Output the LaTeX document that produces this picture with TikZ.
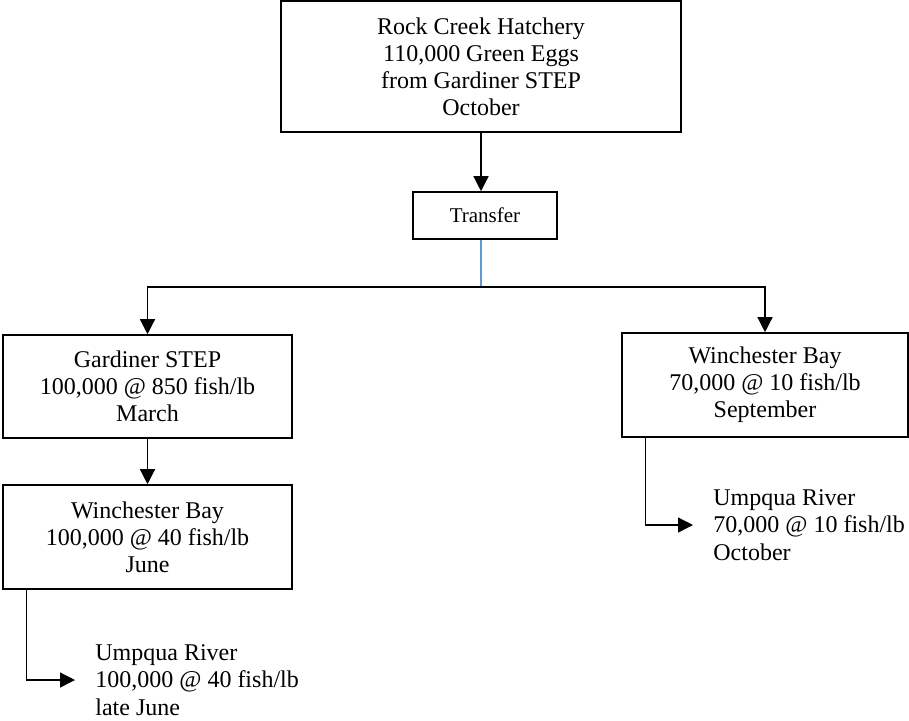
\documentclass[tikz,border=0pt]{standalone}
\usepackage{fontspec}
\setmainfont{Liberation Serif}
\usetikzlibrary{arrows.meta}
\definecolor{connblue}{RGB}{91,155,213}
\begin{document}
\begin{tikzpicture}[x=0.5pt,y=-0.5pt,
  box/.style={draw, line width=0.8pt, align=center, inner sep=0pt, font=\fontsize{12pt}{13.5pt}\selectfont},
  txt/.style={align=left, inner sep=0pt, anchor=west, font=\fontsize{12pt}{13.8pt}\selectfont},
  conn/.style={line width=0.65pt},
  arr/.style={conn, -{Triangle[length=7.5pt,width=7.5pt]}}]
\useasboundingbox (0,0) rectangle (909,720);
\node[box, line width=1pt, minimum width=200pt, minimum height=65.5pt] (top) at (481,66.5) {Rock Creek Hatchery\\110,000 Green Eggs\\from Gardiner STEP\\October};
\node[box, minimum width=72pt, minimum height=23.5pt, font=\fontsize{10.5pt}{12pt}\selectfont] (tr) at (485,215.5) {Transfer};
\coordinate (j) at (481,287);
\node[box, minimum width=144.5pt, minimum height=51.5pt] (gs) at (147.5,386.5) {Gardiner STEP\\100,000 @ 850 fish/lb\\March};
\node[box, minimum width=144.5pt, minimum height=52pt] (wbl) at (147.5,537) {Winchester Bay\\100,000 @ 40 fish/lb\\June};
\node[box, minimum width=143pt, minimum height=52pt] (wbr) at (765,385) {Winchester Bay\\70,000 @ 10 fish/lb\\September};
\node[txt] (ul) at (95,680) {Umpqua River\\100,000 @ 40 fish/lb\\late June};
\node[txt] (ur) at (713,525) {Umpqua River\\70,000 @ 10 fish/lb\\October};
\draw[arr] (top.south) -- (top.south |- tr.north);
\draw[conn, connblue] (top.south |- tr.south) -- (j);
\draw[arr] (j) -| (gs.north);
\draw[arr] (j) -| (wbr.north);
\draw[arr] (gs.south) -- (wbl.north);
\draw[arr] ([xshift=12pt]wbl.south west) |- ([xshift=-10pt]ul.west);
\draw[arr] ([xshift=12pt]wbr.south west) |- ([xshift=-10pt]ur.west);
\end{tikzpicture}
\end{document}
